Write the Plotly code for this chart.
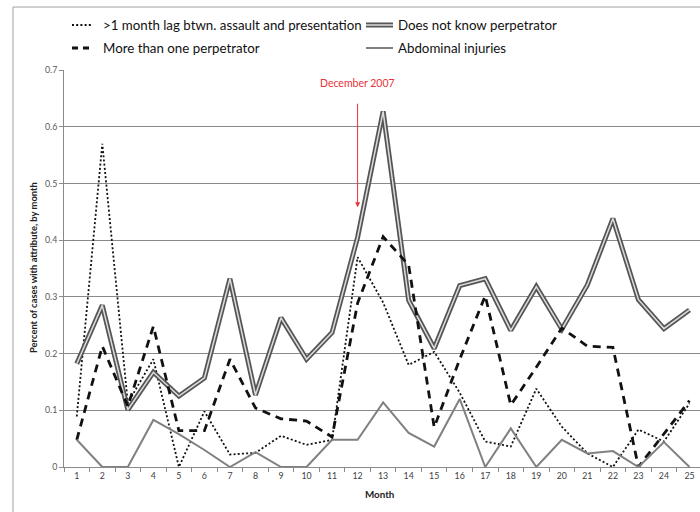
import plotly.graph_objects as go

# Monthly share of cases with each attribute
months = list(range(1, 26))
lag_over_month = [0.089, 0.57, 0.113, 0.19, 0.0, 0.098, 0.022, 0.025, 0.055, 0.039,
                  0.048, 0.37, 0.29, 0.18, 0.203, 0.131, 0.045, 0.036, 0.138, 0.071,
                  0.024, 0.0, 0.066, 0.045, 0.112]
unknown_perp = [0.182, 0.285, 0.101, 0.167, 0.125, 0.157, 0.332, 0.127, 0.263, 0.19,
                0.237, 0.405, 0.627, 0.294, 0.209, 0.32, 0.332, 0.241, 0.318, 0.243,
                0.321, 0.438, 0.295, 0.244, 0.277]
multi_perp = [0.048, 0.213, 0.107, 0.248, 0.064, 0.064, 0.19, 0.104, 0.085, 0.081,
              0.053, 0.289, 0.406, 0.356, 0.07, 0.19, 0.302, 0.109, 0.176, 0.245,
              0.213, 0.211, 0.0, 0.059, 0.117]
abdominal = [0.048, 0.0, 0.0, 0.083, 0.058, 0.03, 0.0, 0.026, 0.0, 0.0,
             0.048, 0.048, 0.114, 0.06, 0.036, 0.12, 0.0, 0.068, 0.0, 0.048,
             0.024, 0.028, 0.0, 0.044, 0.0]
y_ticks = [0, 0.1, 0.2, 0.3, 0.4, 0.5, 0.6, 0.7]
y_tick_text = ["0", "0.1", "0.2", "0.3", "0.4", "0.5", "0.6", "0.7"]

legend_labels = [">1 month lag btwn. assault and presentation", "Does not know perpetrator",
                 "More than one perpetrator", "Abdominal injuries"]
marker_month = 12
marker_label = "December 2007"

W, H = 700, 512
L, R, T, B = 64, 0, 70, 45
FONT = "Lato"
DOUBLE_OUT, DOUBLE_IN = "#555555", "#dcdcdc"
GRID = "#8a8a8a"

fig = go.Figure()
fig.add_trace(go.Scatter(x=months, y=lag_over_month, mode="lines",
                         line=dict(color="#111111", width=1.8, dash="2px,2.2px")))
fig.add_trace(go.Scatter(x=months, y=unknown_perp, mode="lines",
                         line=dict(color=DOUBLE_OUT, width=5)))
fig.add_trace(go.Scatter(x=months, y=unknown_perp, mode="lines",
                         line=dict(color=DOUBLE_IN, width=1.5)))
fig.add_trace(go.Scatter(x=months, y=multi_perp, mode="lines",
                         line=dict(color="#111111", width=2.8, dash="8px,6px")))
fig.add_trace(go.Scatter(x=months, y=abdominal, mode="lines",
                         line=dict(color="#808080", width=2)))


def px_x(p):
    return (p - L) / (W - L - R)


def px_y(p):
    return (H - B - p) / (H - T - B)


shapes = []
annotations = []

# chart frame
shapes.append(dict(type="rect", xref="paper", yref="paper",
                   x0=px_x(13), x1=px_x(760), y0=px_y(560), y1=px_y(7),
                   line=dict(color="#a0a0a0", width=1), layer="below"))

# legend
rows = [25, 48]
cols = [(72, 93, 101), (366, 393, 396)]
entries = [(0, 0, "dot"), (1, 0, "double"), (0, 1, "dash"), (1, 1, "gray")]
for (ci, ri, style), label in zip(entries, legend_labels):
    x0, x1, tx = cols[ci]
    yy = px_y(rows[ri])
    if style == "dot":
        shapes.append(dict(type="line", xref="paper", yref="paper", x0=px_x(x0), x1=px_x(x1),
                           y0=yy, y1=yy, line=dict(color="#111111", width=1.8, dash="2px,2.2px")))
    elif style == "dash":
        shapes.append(dict(type="line", xref="paper", yref="paper", x0=px_x(x0), x1=px_x(x1),
                           y0=yy, y1=yy, line=dict(color="#111111", width=2.8, dash="6px,5px")))
    elif style == "double":
        shapes.append(dict(type="line", xref="paper", yref="paper", x0=px_x(x0), x1=px_x(x1),
                           y0=yy, y1=yy, line=dict(color=DOUBLE_OUT, width=5)))
        shapes.append(dict(type="line", xref="paper", yref="paper", x0=px_x(x0), x1=px_x(x1),
                           y0=yy, y1=yy, line=dict(color=DOUBLE_IN, width=1.5)))
    else:
        shapes.append(dict(type="line", xref="paper", yref="paper", x0=px_x(x0), x1=px_x(x1),
                           y0=yy, y1=yy, line=dict(color="#808080", width=2)))
    annotations.append(dict(xref="paper", yref="paper", x=px_x(tx), y=yy, text=label,
                            showarrow=False, xanchor="left", yanchor="middle",
                            font=dict(family=FONT, size=13.3, color="#111111")))

# event marker
annotations.append(dict(x=marker_month, y=0.677, xref="x", yref="y", text=marker_label,
                        showarrow=False, xanchor="center", yanchor="middle",
                        font=dict(family=FONT, size=10.5, color="#e8323a")))
annotations.append(dict(x=marker_month, y=0.458, xref="x", yref="y", text="",
                        showarrow=True, ax=0, ay=-105, arrowhead=2, arrowsize=1,
                        arrowwidth=1, arrowcolor="#e8323a"))

# axis titles
annotations.append(dict(xref="paper", yref="paper", x=px_x(33), y=px_y(268),
                        text="<b>Percent of cases with attribute, by month</b>",
                        textangle=-90, showarrow=False, xanchor="center", yanchor="middle",
                        font=dict(family=FONT, size=9.4, color="#222222")))
annotations.append(dict(xref="paper", yref="paper", x=px_x(379), y=px_y(494),
                        text="<b>Month</b>", showarrow=False, xanchor="center",
                        yanchor="middle", font=dict(family=FONT, size=9.8, color="#222222")))

fig.update_layout(
    width=W, height=H,
    margin=dict(l=L, r=R, t=T, b=B),
    paper_bgcolor="white", plot_bgcolor="white",
    showlegend=False,
    shapes=shapes, annotations=annotations,
)
fig.update_xaxes(
    range=[0.5, 0.5 + (W - L - R) / 25.53],
    tickmode="array", tickvals=months, ticktext=[str(m) for m in months],
    ticks="", showgrid=False, zeroline=False,
    showline=True, linecolor=GRID, linewidth=1,
    tickfont=dict(family=FONT, size=8.8, color="#404040"),
    minor=dict(tick0=0.5, dtick=1, ticks="outside", ticklen=4, tickcolor=GRID, showgrid=False),
)
fig.update_yaxes(
    range=[0, 0.7], tickmode="array", tickvals=y_ticks, ticktext=y_tick_text,
    ticks="outside", ticklen=4, tickcolor=GRID,
    showgrid=True, gridcolor=GRID, gridwidth=1, zeroline=False,
    showline=True, linecolor=GRID, linewidth=1,
    tickfont=dict(family=FONT, size=8.8, color="#595959"),
)

fig.write_html("out.html")
